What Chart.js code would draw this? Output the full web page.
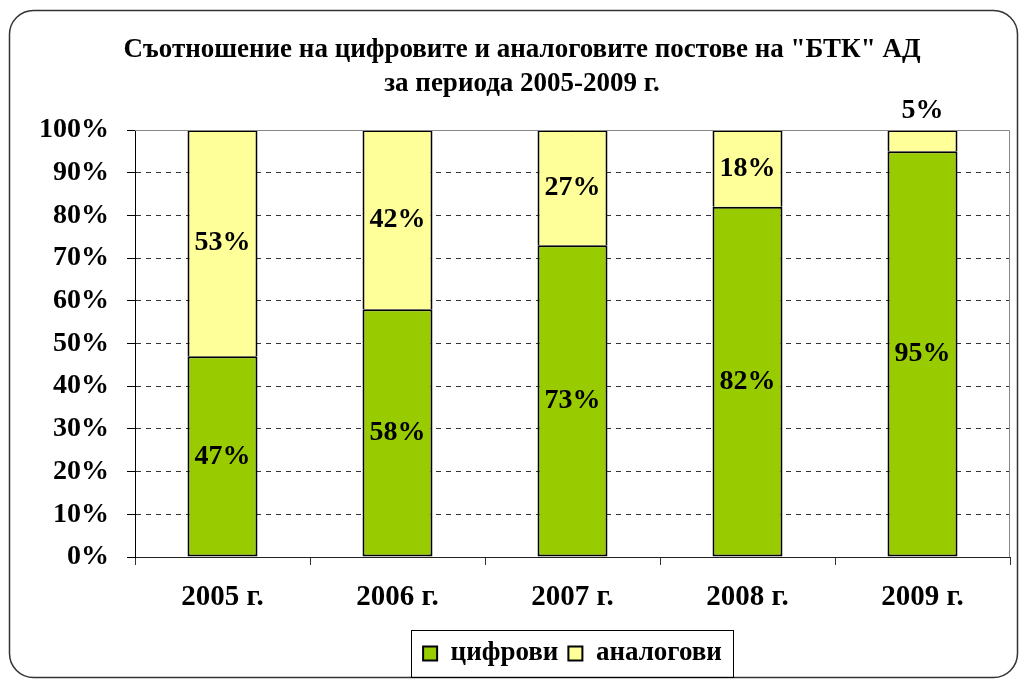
<!DOCTYPE html>
<html lang="bg">
<head>
<meta charset="UTF-8">
<title>Съотношение на цифровите и аналоговите постове</title>
<script src="https://cdn.jsdelivr.net/npm/chart.js"></script>
<style>
  body { margin: 0; background: #fff; }
</style>
</head>
<body>
<canvas id="chart" width="1019" height="679"></canvas>
<script>
const years = ["2005 г.", "2006 г.", "2007 г.", "2008 г.", "2009 г."];
const digital = [47, 58, 73, 82, 95];
const analog = [53, 42, 27, 18, 5];
const titleLines = ['Съотношение на цифровите и аналоговите постове на "БТК" АД', 'за периода 2005-2009 г.'];

const FONT = '"Liberation Serif", "Times New Roman", serif';

function roundedRect(c, x, y, w, h, r) {
  c.beginPath();
  c.moveTo(x + r, y);
  c.arcTo(x + w, y, x + w, y + h, r);
  c.arcTo(x + w, y + h, x, y + h, r);
  c.arcTo(x, y + h, x, y, r);
  c.arcTo(x, y, x + w, y, r);
  c.closePath();
}

// outer frame, plot border, legend box
const decor = {
  id: 'decor',
  beforeDraw(chart) {
    const c = chart.ctx;
    c.save();
    c.strokeStyle = '#333';
    c.lineWidth = 1.5;
    roundedRect(c, 9.5, 10.5, 1008, 667, 24);
    c.stroke();
    c.restore();
  },
  afterDraw(chart) {
    const c = chart.ctx, a = chart.chartArea;
    c.save();
    c.strokeStyle = '#888';
    c.lineWidth = 1;
    c.beginPath();
    c.moveTo(a.left, a.top + 0.5);
    c.lineTo(a.right - 0.5, a.top + 0.5);
    c.lineTo(a.right - 0.5, a.bottom);
    c.stroke();

    const boxes = chart.legend.legendHitBoxes;
    if (boxes && boxes.length) {
      const l = Math.min(...boxes.map(b => b.left)) - 12;
      const r = Math.max(...boxes.map(b => b.left + b.width)) + 11;
      const cy = boxes[0].top + boxes[0].height / 2;
      c.strokeStyle = '#000';
      c.strokeRect(Math.round(l) + 0.5, Math.round(cy - 24) + 0.5, Math.round(r - l), 47);
    }
    c.restore();
  }
};

// value labels on the bar segments
const barLabels = {
  id: 'barLabels',
  afterDatasetsDraw(chart) {
    const c = chart.ctx;
    c.save();
    c.font = 'bold 28px ' + FONT;
    c.fillStyle = '#000';
    c.textAlign = 'center';
    c.textBaseline = 'middle';
    chart.data.datasets.forEach((ds, i) => {
      chart.getDatasetMeta(i).data.forEach((bar, j) => {
        const top = Math.min(bar.y, bar.base), bottom = Math.max(bar.y, bar.base);
        let y = (top + bottom) / 2;
        if (bottom - top < 30) y = top - 19;
        c.fillText(ds.data[j] + '%', bar.x, y);
      });
    });
    c.restore();
  }
};

new Chart(document.getElementById('chart'), {
  type: 'bar',
  data: {
    labels: years,
    datasets: [
      { label: 'цифрови', data: digital, backgroundColor: '#99CC00', borderColor: '#000', borderWidth: 2, borderSkipped: false },
      { label: 'аналогови', data: analog, backgroundColor: '#FFFF99', borderColor: '#000', borderWidth: 2, borderSkipped: 'bottom' }
    ]
  },
  options: {
    responsive: false,
    animation: false,
    layout: { padding: { left: 34, right: 9, top: 0, bottom: 2 } },
    datasets: { bar: { categoryPercentage: 1, barPercentage: 0.4 } },
    plugins: {
      title: {
        display: true,
        text: titleLines,
        color: '#000',
        font: { family: FONT, size: 27, weight: 'bold', lineHeight: '34px' },
        padding: { top: 33, bottom: 29 }
      },
      legend: {
        position: 'bottom',
        fullSize: false,
        labels: { color: '#000', font: { family: FONT, size: 27, weight: 'bold' }, boxWidth: 14, boxHeight: 14, padding: 10 }
      },
      tooltip: { enabled: false }
    },
    scales: {
      x: {
        stacked: true,
        grid: { display: true, drawOnChartArea: false, tickLength: 8, tickColor: '#333' },
        border: { color: '#222', width: 1 },
        ticks: { color: '#000', font: { family: FONT, size: 29, weight: 'bold' }, padding: 15 },
        afterFit(s) { s.height = 73; }
      },
      y: {
        stacked: true,
        min: 0,
        max: 100,
        ticks: { stepSize: 10, callback: v => v + '%', padding: 18, color: '#000', font: { family: FONT, size: 28, weight: 'bold' } },
        grid: {
          color: ctx => (ctx.tick && (ctx.tick.value === 0 || ctx.tick.value === 100)) ? 'rgba(0,0,0,0)' : '#333',
          tickColor: '#000',
          tickLength: 8
        },
        border: { color: '#000', width: 1, dash: [5, 5] },
        afterFit(s) { s.width = 101; }
      }
    }
  },
  plugins: [decor, barLabels]
});
</script>
</body>
</html>
